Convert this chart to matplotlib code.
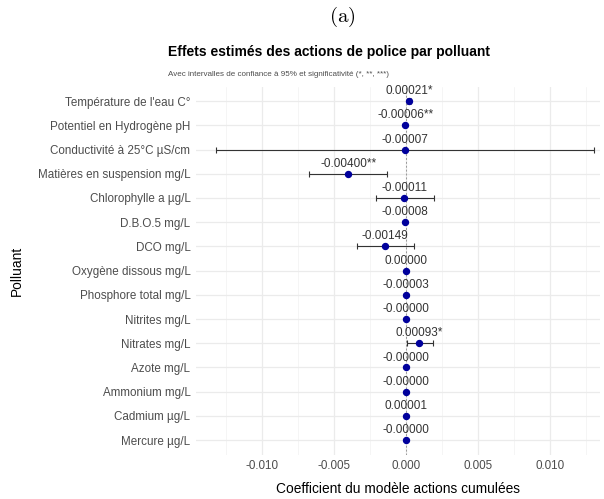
import numpy as np
import matplotlib
matplotlib.use('Agg')
import matplotlib.pyplot as plt
from matplotlib.ticker import MultipleLocator

plt.rcParams['font.family'] = ['Liberation Sans', 'DejaVu Sans']
plt.rcParams['mathtext.fontset'] = 'cm'

# Données
polluants = [
    "Température de l'eau C°", "Potentiel en Hydrogène pH", "Conductivité à 25°C µS/cm",
    "Matières en suspension mg/L", "Chlorophylle a µg/L", "D.B.O.5 mg/L", "DCO mg/L",
    "Oxygène dissous mg/L", "Phosphore total mg/L", "Nitrites mg/L", "Nitrates mg/L",
    "Azote mg/L", "Ammonium mg/L", "Cadmium µg/L", "Mercure µg/L",
]
estimates = [0.00021, -0.00006, -0.00007, -0.00400, -0.00011, -0.00008, -0.00149,
             0.000001, -0.00003, -0.000001, 0.00093, -0.000001, -0.000001, 0.00001, -0.000001]
ci_low = [0.00007, -0.00009, -0.0132, -0.00674, -0.00208, -0.00012, -0.0034,
          -0.00001, -0.00005, -0.00001, 0.0001, -0.00001, -0.00001, -0.00001, -0.00001]
ci_high = [0.00035, -0.00003, 0.0131, -0.00132, 0.00194, -0.00004, 0.00056,
           0.00001, -0.00001, 0.00001, 0.0019, 0.00001, 0.00001, 0.00003, 0.00001]
stars = ["*", "**", "", "**", "", "", "", "", "", "", "*", "", "", "", ""]

est = np.array(estimates)
lo = np.array(ci_low)
hi = np.array(ci_high)
y = np.arange(len(polluants))

fig = plt.figure(figsize=(6.04, 4.99), dpi=100)
ax = fig.add_axes([0.3245, 0.089, 0.669, 0.7375])

# grille style theme_minimal
ax.xaxis.set_major_locator(MultipleLocator(0.005))
ax.xaxis.set_minor_locator(MultipleLocator(0.0025))
ax.grid(True, which='major', color='#EBEBEB', lw=0.9)
ax.grid(True, which='minor', axis='x', color='#F2F2F2', lw=0.5)
ax.set_axisbelow(True)
for s in ax.spines.values():
    s.set_visible(False)
ax.tick_params(which='both', length=0)

ax.axvline(0, color='#999999', lw=0.7, ls=(0, (2, 2)), zorder=1)

ax.errorbar(est, y, xerr=[est - lo, hi - est], fmt='none', ecolor='#333333',
            elinewidth=0.8, capsize=2.2, capthick=0.8, zorder=2)
ax.plot(est, y, 'o', color='#00009C', ms=4.3, zorder=3)

for xi, yi, v, st in zip(est, y, estimates, stars):
    ax.annotate(f"{v:.5f}{st}", (xi, yi), xytext=(0, 2.8), textcoords='offset points',
                ha='center', va='bottom', fontsize=8.5, color='#333333')

ax.set_xlim(-0.0146, 0.0135)
ax.set_ylim(len(polluants) - 0.4, -0.6)
ax.set_yticks(y)
ax.set_yticklabels(polluants)
ax.set_xticks([-0.01, -0.005, 0, 0.005, 0.01])
ax.set_xticklabels(["-0.010", "-0.005", "0.000", "0.005", "0.010"])
ax.tick_params(axis='both', labelsize=8.4, labelcolor='#4D4D4D', pad=4)

ax.set_xlabel("Coefficient du modèle actions cumulées", fontsize=9.9, labelpad=7)
ax.set_ylabel("Polluant", fontsize=9.9, labelpad=10)

fig.text(168 / 604, 1 - 52 / 499, "Effets estimés des actions de police par polluant",
         fontsize=10, fontweight='bold', ha='left', va='center')
fig.text(168 / 604, 1 - 74 / 499, "Avec intervalles de confiance à 95% et significativité (*, **, ***)",
         fontsize=5.8, color='#4D4D4D', ha='left', va='center')
fig.text(342 / 604, 1 - 17 / 499, r"$\mathrm{(a)}$", fontsize=15, ha='center', va='center')

fig.savefig('out.png', dpi=100)
